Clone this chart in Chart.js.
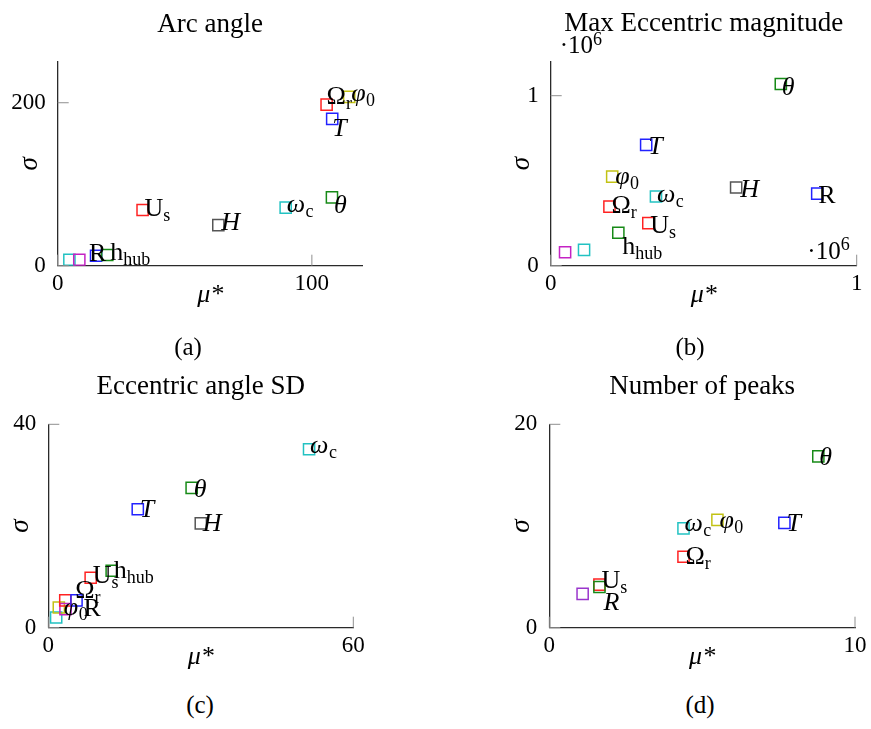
<!DOCTYPE html>
<html>
<head>
<meta charset="utf-8">
<script src="https://cdn.jsdelivr.net/npm/chart.js@4.4.0/dist/chart.umd.min.js"></script>
<style>
  body { margin: 0; background: #fff; width: 871px; height: 729px; position: relative; overflow: hidden; font-family: "Liberation Serif", serif; }
  .panel { position: absolute; }
  .cap { position: absolute; font-size: 25px; line-height: 24px; transform: translateX(-50%); color: #000; }
</style>
</head>
<body>
<div class="panel" style="left:0;top:0"><canvas id="chartA" width="435" height="320"></canvas></div>
<div class="panel" style="left:435px;top:0"><canvas id="chartB" width="436" height="320"></canvas></div>
<div class="panel" style="left:0;top:360px"><canvas id="chartC" width="435" height="320"></canvas></div>
<div class="panel" style="left:435px;top:360px"><canvas id="chartD" width="436" height="320"></canvas></div>
<div class="cap" style="left:188px;top:335px">(a)</div>
<div class="cap" style="left:690px;top:335px">(b)</div>
<div class="cap" style="left:200px;top:693px">(c)</div>
<div class="cap" style="left:700px;top:693px">(d)</div>
<script>
// (a) Arc angle
const arcNames  = ['c2', 'm2', 'R', 'h_hub', 'U_s', 'H', 'omega_c', 'theta', 'T', 'Omega_r', 'phi_0'];
const arcMu     = [4.6, 8.5, 15.1, 19.5, 33.4, 63.2, 89.7, 107.9, 108.0, 105.8, 114.7];
const arcSigma  = [7.3, 7.3, 12.2, 13.1, 68.4, 49.7, 71.3, 83.9, 180.1, 197.6, 207.3];
const arcXTicks = [0, 100];
const arcYTicks = [0, 200];

// (b) Max Eccentric magnitude
const magNames  = ['m2', 'c2', 'h_hub', 'Omega_r', 'phi_0', 'T', 'omega_c', 'U_s', 'H', 'R', 'theta'];
const magMu     = [47000, 109000, 221000, 192000, 201000, 312000, 344000, 319000, 606000, 871000, 752000];
const magSigma  = [79000, 93000, 194000, 348000, 524000, 711000, 407000, 250000, 460000, 424000, 1069000];
const magXTicks = [0, 1000000];
const magYTicks = [0, 1000000];

// (c) Eccentric angle SD
const sdNames  = ['c2', 'phi_0', 'm2', 'Omega_r', 'R', 'U_s', 'h_hub', 'T', 'theta', 'H', 'omega_c'];
const sdMu     = [1.55, 2.07, 3.38, 3.34, 5.55, 8.34, 12.47, 17.6, 28.2, 30.0, 51.3];
const sdSigma  = [2.0, 3.97, 3.64, 5.39, 5.39, 9.83, 11.2, 23.3, 27.5, 20.5, 35.1];
const sdXTicks = [0, 60];
const sdYTicks = [0, 40];

// (d) Number of peaks
const pkNames  = ['mix', 'U_s', 'Rit', 'Omega_r', 'omega_c', 'phi_0', 'T', 'theta'];
const pkMu     = [1.09, 1.64, 1.64, 4.39, 4.39, 5.50, 7.69, 8.80];
const pkSigma  = [3.33, 4.23, 4.00, 6.98, 9.77, 10.6, 10.3, 16.85];
const pkXTicks = [0, 10];
const pkYTicks = [0, 20];

// label text: leading * = italic, _ = subscript
const varLabel = {
  c2: '', m2: '', mix: '', R: 'R', Rit: '*R', h_hub: 'h_hub', U_s: 'U_s', H: '*H',
  omega_c: '*ω_c', theta: '*θ', T: '*T', Omega_r: 'Ω_r', phi_0: '*φ_0'
};
const varColor = {
  U_s: '#ff2222', Omega_r: '#ff2222', T: '#2222ff', R: '#2222ff', theta: '#178a17', h_hub: '#178a17',
  Rit: '#178a17', omega_c: '#22c2c2', c2: '#22c2c2', phi_0: '#c2c214', m2: '#c422c4', H: '#555555', mix: '#9a35cc'
};

const FONT = 'Liberation Serif';

function overlay(p) {
  return {
    id: 'overlay',
    afterDatasetsDraw(chart) {
      const ctx = chart.ctx, a = chart.chartArea;
      const xs = chart.scales.x, ys = chart.scales.y;
      ctx.save();
      // inward ticks
      ctx.strokeStyle = '#8f8f8f';
      ctx.lineWidth = 1;
      p.xTicks.forEach(v => {
        const px = xs.getPixelForValue(v);
        ctx.beginPath(); ctx.moveTo(px, a.bottom); ctx.lineTo(px, a.bottom - 11); ctx.stroke();
      });
      p.yTicks.forEach(v => {
        const py = ys.getPixelForValue(v);
        ctx.beginPath(); ctx.moveTo(a.left, py); ctx.lineTo(a.left + 11, py); ctx.stroke();
      });
      // point labels
      ctx.fillStyle = '#000';
      ctx.textBaseline = 'alphabetic';
      ctx.textAlign = 'left';
      p.names.forEach((n, i) => {
        let txt = varLabel[n];
        if (!txt) return;
        const sh = p.shift[n] || [2, 8];
        const px = xs.getPixelForValue(p.mu[i]) + sh[0];
        const py = ys.getPixelForValue(p.sigma[i]) + sh[1];
        const italic = txt[0] === '*';
        if (italic) txt = txt.slice(1);
        const parts = txt.split('_');
        ctx.font = (italic ? 'italic ' : '') + '26px "' + FONT + '"';
        ctx.fillText(parts[0], px, py);
        if (parts[1]) {
          const w = ctx.measureText(parts[0]).width;
          ctx.font = '18px "' + FONT + '"';
          ctx.fillText(parts[1], px + w + (italic ? 0.5 : 0), py + 5);
        }
      });
      // title
      ctx.textAlign = 'center';
      ctx.font = '27px "' + FONT + '"';
      ctx.fillText(p.title, (a.left + a.right) / 2, a.top - 30.5);
      // x10^6 markers
      if (p.sci) {
        ctx.textAlign = 'left';
        ctx.font = '25px "' + FONT + '"';
        const w = ctx.measureText('·10').width;
        ctx.fillText('·10', a.left + 9, a.top - 8.5);
        ctx.font = '18px "' + FONT + '"';
        ctx.fillText('6', a.left + 9 + w, a.top - 17);
        ctx.font = '25px "' + FONT + '"';
        const x0 = a.right - 7 - 9 - w;
        ctx.fillText('·10', x0, a.bottom - 7);
        ctx.font = '18px "' + FONT + '"';
        ctx.fillText('6', x0 + w, a.bottom - 15.5);
      }
      ctx.restore();
    }
  };
}

function makePanel(id, p) {
  const canvas = document.getElementById(id);
  new Chart(canvas, {
    type: 'scatter',
    data: {
      datasets: [{
        data: p.mu.map((v, i) => ({ x: v, y: p.sigma[i] })),
        pointStyle: 'rect',
        pointRadius: 7.9,
        pointHoverRadius: 7.9,
        pointBorderWidth: 1.5,
        pointBackgroundColor: 'rgba(0,0,0,0)',
        pointBorderColor: p.names.map(n => varColor[n])
      }]
    },
    options: {
      responsive: false,
      animation: false,
      events: [],
      layout: { autoPadding: false, padding: { left: 0, right: p.padRight, top: p.padTop, bottom: 0 } },
      plugins: { legend: { display: false }, tooltip: { enabled: false } },
      scales: {
        x: {
          type: 'linear', min: p.xMin, max: p.xMax,
          grid: { display: false, drawTicks: false },
          border: { display: true, color: '#2a2a2a', width: 1.3 },
          ticks: { padding: 4.5, color: '#000', font: { family: FONT, size: 23 },
                   callback: v => p.div ? v / p.div : v },
          title: { display: true, text: 'μ*', color: '#000', font: { family: FONT, size: 26, style: 'italic' },
                   padding: { top: 0, bottom: p.xTitlePad } },
          afterBuildTicks: s => { s.ticks = p.xTicks.map(v => ({ value: v })); },
          afterFit: s => { s.height = p.xHeight; }
        },
        y: {
          type: 'linear', min: p.yMin, max: p.yMax,
          grid: { display: false, drawTicks: false },
          border: { display: true, color: '#2a2a2a', width: 1.3 },
          ticks: { padding: 12, color: '#000', font: { family: FONT, size: 23 },
                   callback: v => p.div ? v / p.div : v },
          title: { display: true, text: 'σ', color: '#000', font: { family: FONT, size: 27, style: 'italic' },
                   padding: { top: p.yTitlePad, bottom: 0 } },
          afterBuildTicks: s => { s.ticks = p.yTicks.map(v => ({ value: v })); },
          afterFit: s => { s.width = p.yWidth; }
        }
      }
    },
    plugins: [overlay(p)]
  });
}

makePanel('chartA', {
  title: 'Arc angle', names: arcNames, mu: arcMu, sigma: arcSigma, xTicks: arcXTicks, yTicks: arcYTicks,
  xMin: 0, xMax: 120, yMin: 0, yMax: 250,
  yWidth: 57.7, padRight: 72.3, padTop: 62, xHeight: 54.3, xTitlePad: 9, yTitlePad: 14,
  shift: { R: [-7, 5], h_hub: [3, 5], U_s: [2, 6], H: [3, 5], omega_c: [1, 4], theta: [2, 16], T: [0, 17], Omega_r: [0, -1], phi_0: [2, 4] }
});
makePanel('chartB', {
  title: 'Max Eccentric magnitude', names: magNames, mu: magMu, sigma: magSigma, xTicks: magXTicks, yTicks: magYTicks,
  xMin: 0, xMax: 1000000, yMin: 0, yMax: 1200000, div: 1000000, sci: true,
  yWidth: 115.7, padRight: 14.3, padTop: 61.7, xHeight: 54.3, xTitlePad: 9, yTitlePad: 71,
  shift: { theta: [1, 11], T: [2, 9], phi_0: [3, 7], omega_c: [1, 5], H: [4, 9], R: [1, 9], Omega_r: [2, 6], U_s: [2, 10], h_hub: [4, 21] }
});
makePanel('chartC', {
  title: 'Eccentric angle SD', names: sdNames, mu: sdMu, sigma: sdSigma, xTicks: sdXTicks, yTicks: sdYTicks,
  xMin: 0, xMax: 60, yMin: 0, yMax: 40,
  yWidth: 48.3, padRight: 81.7, padTop: 64.3, xHeight: 52.3, xTitlePad: 7, yTitlePad: 5,
  shift: { omega_c: [1, 4], theta: [2, 9], T: [2, 8], H: [2, 8], h_hub: [2, 7], U_s: [2, 5], Omega_r: [10, -2], R: [7, 16], phi_0: [5, 7] }
});
makePanel('chartD', {
  title: 'Number of peaks', names: pkNames, mu: pkMu, sigma: pkSigma, xTicks: pkXTicks, yTicks: pkYTicks,
  xMin: 0, xMax: 10, yMin: 0, yMax: 20,
  yWidth: 114.3, padRight: 15.3, padTop: 64.3, xHeight: 52.3, xTitlePad: 7, yTitlePad: 71,
  shift: { theta: [1, 9], T: [2, 8], phi_0: [2, 8], omega_c: [1, 3], Omega_r: [2, 7], U_s: [2, 3], Rit: [4, 23] }
});
</script>
</body>
</html>
